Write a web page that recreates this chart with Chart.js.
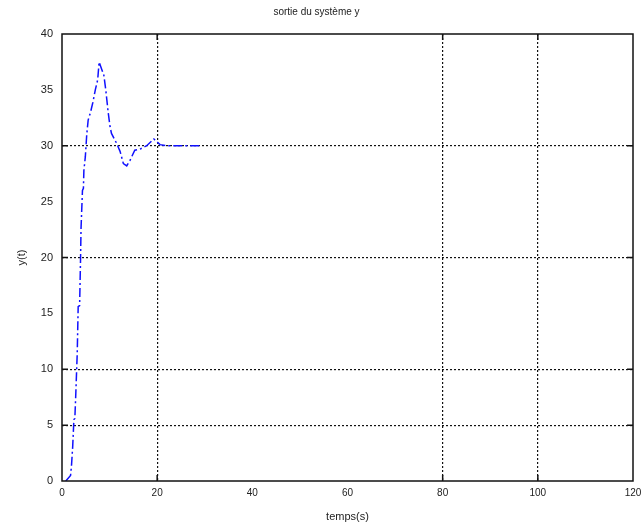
<!DOCTYPE html>
<html>
<head>
<meta charset="utf-8">
<script src="https://cdn.jsdelivr.net/npm/chart.js@4/dist/chart.umd.min.js"></script>
<style>
    html, body { margin: 0; padding: 0; background: #ffffff; }
    #wrap { width: 641px; height: 529px; }
</style>
</head>
<body>
<div id="wrap"><canvas id="responseChart" width="641" height="529"></canvas></div>
<script>
// time (s) and output y(t)
const timeValues = [0.8, 1.8, 2.0, 2.25, 2.5, 2.7, 2.9, 3.2, 3.4, 3.7, 3.9, 4.0, 4.3, 4.5, 4.6, 4.9, 5.2, 5.5, 6.0, 6.5, 7.0, 7.5, 7.8, 8.3, 8.8, 9.2, 9.7, 10.1, 10.4, 11.5, 12.2, 12.9, 13.6, 14.3, 15.3, 16.4, 17.8, 19.3, 20.6, 22.0, 25.5, 29.0];
const outputValues = [0.0, 0.5, 1.4, 3.1, 5.5, 5.6, 7.8, 11.4, 15.6, 15.7, 19.9, 22.6, 26.0, 26.2, 27.8, 29.0, 31.0, 32.3, 33.0, 33.9, 35.0, 35.9, 37.5, 36.9, 36.3, 35.0, 33.0, 31.7, 31.1, 30.2, 29.5, 28.4, 28.2, 28.7, 29.6, 29.7, 30.0, 30.6, 30.1, 30.0, 30.0, 30.0];

const xTickValues = [0, 20, 40, 60, 80, 100, 120];
const yTickValues = [0, 5, 10, 15, 20, 25, 30, 35, 40];
// grid lines that still show in the scanned figure
const xGridShown = [20, 80, 100];
const yGridShown = [5, 10, 20, 30];

const points = timeValues.map((t, i) => ({ x: t, y: outputValues[i] }));

const gridColor = (shown) => (ctx) =>
    ctx.tick && shown.includes(ctx.tick.value) ? '#111111' : 'rgba(0,0,0,0)';

// matlab style box with inward ticks
const boxPlugin = {
    id: 'box',
    afterDraw(chart) {
        const { ctx, chartArea: a, scales } = chart;
        ctx.save();
        ctx.strokeStyle = '#111111';
        ctx.lineWidth = 1.5;
        ctx.strokeRect(a.left, a.top, a.right - a.left, a.bottom - a.top);
        ctx.beginPath();
        xGridShown.forEach((v) => {
            const px = scales.x.getPixelForValue(v);
            ctx.moveTo(px, a.bottom); ctx.lineTo(px, a.bottom - 6);
            ctx.moveTo(px, a.top); ctx.lineTo(px, a.top + 6);
        });
        yGridShown.forEach((v) => {
            const py = scales.y.getPixelForValue(v);
            ctx.moveTo(a.left, py); ctx.lineTo(a.left + 6, py);
            ctx.moveTo(a.right, py); ctx.lineTo(a.right - 6, py);
        });
        ctx.stroke();
        ctx.restore();
    },
};

new Chart(document.getElementById('responseChart'), {
    type: 'line',
    data: {
        datasets: [
            {
                label: 'y',
                data: points,
                borderColor: '#1010ff',
                borderWidth: 1.5,
                borderDash: [9, 3, 2, 3],
                pointRadius: 0,
                fill: false,
                tension: 0,
            },
        ],
    },
    plugins: [boxPlugin],
    options: {
        responsive: false,
        animation: false,
        layout: {
            padding: { left: 0, right: 8, top: 0, bottom: 0 },
        },
        plugins: {
            legend: { display: false },
            tooltip: { enabled: false },
            title: {
                display: true,
                text: 'sortie du système y',
                color: '#222222',
                font: { family: 'Liberation Sans', size: 10, weight: 'normal' },
                padding: { top: 6, bottom: 16 },
            },
        },
        scales: {
            x: {
                type: 'linear',
                min: 0,
                max: 120,
                afterBuildTicks: (axis) => {
                    axis.ticks = xTickValues.map((v) => ({ value: v }));
                },
                afterFit: (axis) => {
                    axis.height = 48;
                    axis.paddingLeft = 0;
                    axis.paddingRight = 0;
                },
                border: { display: false, dash: [2, 2] },
                grid: {
                    color: gridColor(xGridShown),
                    lineWidth: 1.2,
                    drawTicks: false,
                },
                ticks: {
                    color: '#222222',
                    padding: 6,
                    maxRotation: 0,
                    font: { family: 'Liberation Sans', size: 10 },
                },
                title: {
                    display: true,
                    text: 'temps(s)',
                    color: '#222222',
                    padding: { top: 2, bottom: 5 },
                    font: { family: 'Liberation Sans', size: 11 },
                },
            },
            y: {
                min: 0,
                max: 40,
                afterBuildTicks: (axis) => {
                    axis.ticks = yTickValues.map((v) => ({ value: v }));
                },
                afterFit: (axis) => {
                    axis.width = 62;
                },
                border: { display: false, dash: [2, 2] },
                grid: {
                    color: gridColor(yGridShown),
                    lineWidth: 1.2,
                    drawTicks: false,
                },
                ticks: {
                    color: '#222222',
                    padding: 9,
                    font: { family: 'Liberation Sans', size: 11 },
                },
                title: {
                    display: true,
                    text: 'y(t)',
                    color: '#222222',
                    padding: { top: 15, bottom: 0 },
                    font: { family: 'Liberation Sans', size: 11 },
                },
            },
        },
    },
});
</script>
</body>
</html>
